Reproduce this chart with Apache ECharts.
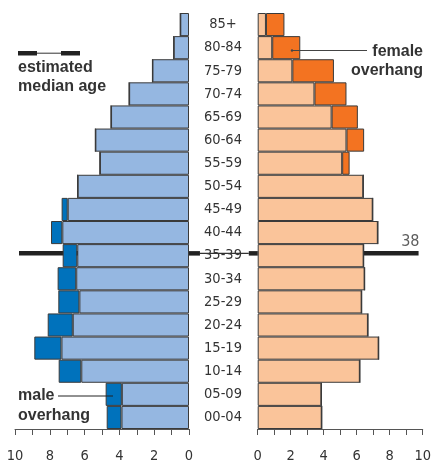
<!DOCTYPE html>
<html>
<head>
<meta charset="utf-8">
<script src="https://cdn.jsdelivr.net/npm/echarts@6/dist/echarts.min.js"></script>
<style>
html,body{margin:0;padding:0;background:#fff;}
#chart{width:434px;height:467px;}
</style>
</head>
<body>
<div id="chart"></div>
<script>
// Age groups, bottom to top
var ageGroups = ['00-04','05-09','10-14','15-19','20-24','25-29','30-34','35-39','40-44','45-49','50-54','55-59','60-64','65-69','70-74','75-79','80-84','85+'];
// Percent of population
var maleValues   = [4.73,4.79,7.49,8.89,8.12,7.51,7.55,7.26,7.93,7.32,6.40,5.12,5.38,4.48,3.44,2.10,0.88,0.50];
var femaleValues = [3.88,3.86,6.19,7.33,6.68,6.30,6.48,6.42,7.28,6.97,6.40,5.57,6.45,6.07,5.38,4.62,2.58,1.62];
var medianAge = 38;
var xTicks = [0,2,4,6,8,10];

var FONT_C = '"Liberation Sans Narrow","DejaVu Sans Condensed","Arial Narrow",sans-serif';
var FONT_B = '"Liberation Sans","Arial",sans-serif';
var TXT = '#333';

var common = [], maleOver = [], femaleOver = [];
for (var i = 0; i < ageGroups.length; i++) {
  var m = maleValues[i], f = femaleValues[i];
  common.push(Math.min(m, f));
  maleOver.push(+(Math.max(m - f, 0)).toFixed(2));
  femaleOver.push(+(Math.max(f - m, 0)).toFixed(2));
}

var chart = echarts.init(document.getElementById('chart'), null, {renderer: 'canvas'});

function xAxisCfg(idx, inverse) {
  return {
    gridIndex: idx, type: 'value', min: 0, max: 10, interval: 1, inverse: inverse,
    position: 'bottom', offset: 8,
    axisLine: {show: true, lineStyle: {color: '#555', width: 1}},
    axisTick: {show: true, length: 6, lineStyle: {color: '#555', width: 1}},
    splitLine: {show: false},
    axisLabel: {
      margin: 12, color: TXT, fontFamily: FONT_C, fontSize: 14.5,
      formatter: function (v) { return xTicks.indexOf(v) >= 0 ? String(v) : ''; }
    }
  };
}

var barBorder = {borderColor: '#3a3a3a', borderWidth: 1};

var option = {
  animation: false,
  backgroundColor: '#fff',
  grid: [
    {left: 15, width: 174, top: 13, height: 416},
    {left: 257.7, width: 173.3, top: 13, height: 416}
  ],
  xAxis: [xAxisCfg(0, true), xAxisCfg(1, false)],
  yAxis: [
    {gridIndex: 0, type: 'category', data: ageGroups, position: 'right',
     axisLine: {show: false}, axisTick: {show: false},
     axisLabel: {margin: 34, align: 'center', color: TXT, fontFamily: FONT_C, fontSize: 14.5}},
    {gridIndex: 1, type: 'category', data: ageGroups, show: false},
    {gridIndex: 0, type: 'value', min: 0, max: 90, show: false},
    {gridIndex: 1, type: 'value', min: 0, max: 90, show: false}
  ],
  series: [
    {type: 'line', xAxisIndex: 0, yAxisIndex: 2, z: 1, symbol: 'none', silent: true,
     lineStyle: {color: '#222', width: 4.5},
     data: [[9.77, medianAge], [0, medianAge]]},
    {type: 'line', xAxisIndex: 1, yAxisIndex: 3, z: 1, symbol: 'none', silent: true,
     lineStyle: {color: '#222', width: 4.5},
     data: [[0, medianAge], [9.75, medianAge]]},
    {type: 'scatter', xAxisIndex: 1, yAxisIndex: 3, z: 3, symbolSize: 0, silent: true,
     label: {show: true, position: 'top', distance: 4, formatter: String(medianAge),
             color: TXT, fontFamily: FONT_C, fontSize: 16},
     data: [[9.25, medianAge]]},
    {type: 'bar', xAxisIndex: 0, yAxisIndex: 0, stack: 'm', z: 2, barCategoryGap: '0%',
     itemStyle: Object.assign({color: '#95b7e1'}, barBorder), data: common},
    {type: 'bar', xAxisIndex: 0, yAxisIndex: 0, stack: 'm', z: 2, barCategoryGap: '0%',
     itemStyle: Object.assign({color: '#0072bc'}, barBorder), data: maleOver},
    {type: 'bar', xAxisIndex: 1, yAxisIndex: 1, stack: 'f', z: 2, barCategoryGap: '0%',
     itemStyle: Object.assign({color: '#fac49a'}, barBorder), data: common},
    {type: 'bar', xAxisIndex: 1, yAxisIndex: 1, stack: 'f', z: 2, barCategoryGap: '0%',
     itemStyle: Object.assign({color: '#f37321'}, barBorder), data: femaleOver}
  ],
  graphic: [
    // legend for median age
    {type: 'rect', shape: {x: 18, y: 51, width: 19, height: 4.5}, style: {fill: '#222'}},
    {type: 'line', shape: {x1: 37, y1: 53.2, x2: 61, y2: 53.2}, style: {stroke: '#333', lineWidth: 1}},
    {type: 'rect', shape: {x: 61, y: 51, width: 19, height: 4.5}, style: {fill: '#222'}},
    {type: 'text', x: 18, y: 77, style: {text: 'estimated\nmedian age', fill: TXT, font: 'bold 16px ' + FONT_B,
      lineHeight: 19.5, verticalAlign: 'middle', textAlign: 'left'}},
    // female overhang annotation
    {type: 'line', shape: {x1: 292, y1: 50.5, x2: 367, y2: 50.5}, style: {stroke: '#444', lineWidth: 1}, z: 10},
    {type: 'circle', shape: {cx: 292, cy: 50.5, r: 1.2}, style: {fill: '#444'}, z: 10},
    {type: 'text', x: 423, y: 61, style: {text: 'female\noverhang', fill: TXT, font: 'bold 16px ' + FONT_B,
      lineHeight: 19.5, verticalAlign: 'middle', textAlign: 'right'}},
    // male overhang annotation
    {type: 'line', shape: {x1: 58, y1: 396, x2: 113, y2: 396}, style: {stroke: '#222', lineWidth: 1}, z: 10},
    {type: 'text', x: 18, y: 405.5, style: {text: 'male\noverhang', fill: TXT, font: 'bold 16px ' + FONT_B,
      lineHeight: 19.5, verticalAlign: 'middle', textAlign: 'left'}}
  ]
};
chart.setOption(option);

// median-age line across the label column (thick stubs + thin middle), positioned from the data
var l0 = chart.convertToPixel({xAxisIndex: 0, yAxisIndex: 2}, [0, medianAge]);
var pA = chart.convertToPixel({xAxisIndex: 0, yAxisIndex: 2}, [-0.63, medianAge]);
var pB = chart.convertToPixel({xAxisIndex: 1, yAxisIndex: 3}, [-0.54, medianAge]);
var r0 = chart.convertToPixel({xAxisIndex: 1, yAxisIndex: 3}, [0, medianAge]);
chart.setOption({
  graphic: option.graphic.concat([
    {type: 'line', z: 100, shape: {x1: pA[0], y1: pA[1], x2: pB[0], y2: pB[1]},
     style: {stroke: '#333', lineWidth: 1.2}},
    {type: 'line', z: 1, shape: {x1: l0[0], y1: l0[1], x2: pA[0], y2: pA[1]},
     style: {stroke: '#222', lineWidth: 4.5}},
    {type: 'line', z: 1, shape: {x1: pB[0], y1: pB[1], x2: r0[0], y2: r0[1]},
     style: {stroke: '#222', lineWidth: 4.5}}
  ])
});
</script>
</body>
</html>
